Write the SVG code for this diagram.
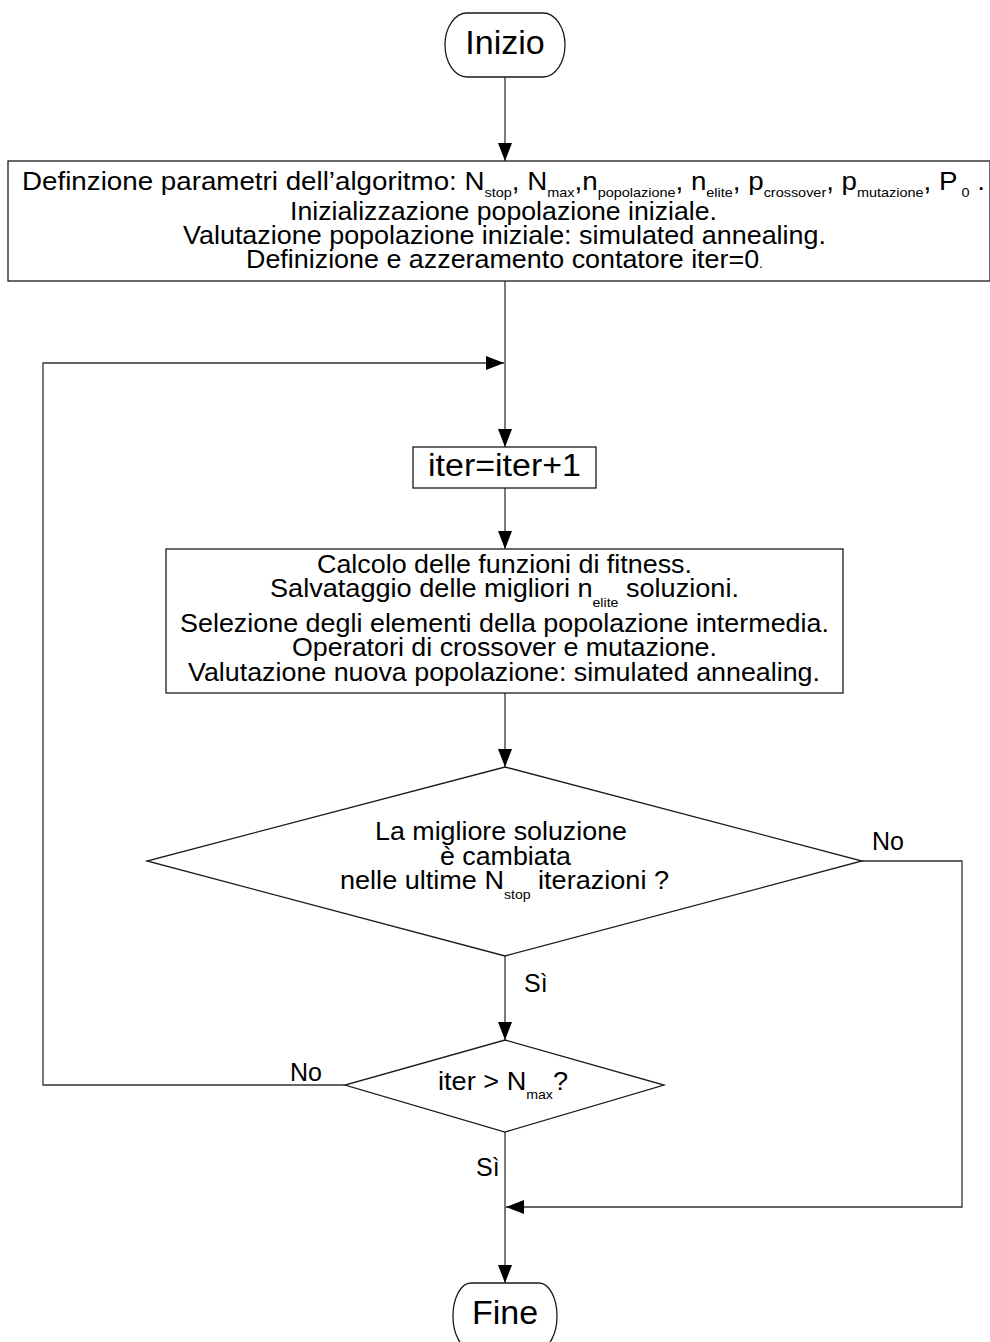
<svg xmlns="http://www.w3.org/2000/svg" width="990" height="1342" viewBox="0 0 990 1342">
  <style>
    .shape { fill: #ffffff; stroke: #1a1a1a; stroke-width: 1.3; }
    .wire { fill: none; stroke: #333333; stroke-width: 1.3; }
    text { font-family: "Liberation Sans", Arial, sans-serif; fill: #000000; }
    .t22 { font-size: 25px; }
    .big { font-size: 34px; }
    .sub { font-size: 13px; }
    .lbl { font-size: 25px; }
  </style>
  <defs>
    <marker id="arrow" viewBox="0 0 18 14" refX="18" refY="7" markerWidth="18" markerHeight="14" markerUnits="userSpaceOnUse" orient="auto">
      <path d="M0,0 L18,7 L0,14 Z" fill="#000000"/>
    </marker>
  </defs>

  <!-- connectors -->
  <g id="connectors">
    <line class="wire" x1="505" y1="77" x2="505" y2="161" marker-end="url(#arrow)"/>
    <line class="wire" x1="505" y1="281" x2="505" y2="447" marker-end="url(#arrow)"/>
    <polyline class="wire" points="345,1085 43,1085 43,363 504,363" marker-end="url(#arrow)"/>
    <line class="wire" x1="505" y1="488" x2="505" y2="549" marker-end="url(#arrow)"/>
    <line class="wire" x1="505" y1="693" x2="505" y2="767" marker-end="url(#arrow)"/>
    <line class="wire" x1="505" y1="956" x2="505" y2="1040" marker-end="url(#arrow)"/>
    <polyline class="wire" points="862,861 962,861 962,1207 506,1207" marker-end="url(#arrow)"/>
    <line class="wire" x1="505" y1="1132" x2="505" y2="1283" marker-end="url(#arrow)"/>
    <text class="lbl" x="872" y="850">No</text>
    <text class="lbl" x="524" y="992">Sì</text>
    <text class="lbl" x="290" y="1081">No</text>
    <text class="lbl" x="476" y="1176">Sì</text>
  </g>

  <!-- start terminator -->
  <g id="start">
    <rect class="shape" x="445" y="13" width="120" height="64" rx="22" ry="32"/>
    <text class="big" x="505" y="54" text-anchor="middle">Inizio</text>
  </g>

  <!-- initialisation block -->
  <g id="init">
    <rect class="shape" x="8" y="161" width="982" height="120"/>
    <text class="t22" x="22" y="190" textLength="963" lengthAdjust="spacingAndGlyphs">Definzione parametri dell’algoritmo: N<tspan class="sub" dy="7">stop</tspan><tspan dy="-7">, N</tspan><tspan class="sub" dy="7">max</tspan><tspan dy="-7">,n</tspan><tspan class="sub" dy="7">popolazione</tspan><tspan dy="-7">, n</tspan><tspan class="sub" dy="7">elite</tspan><tspan dy="-7">, p</tspan><tspan class="sub" dy="7">crossover</tspan><tspan dy="-7">, p</tspan><tspan class="sub" dy="7">mutazione</tspan><tspan dy="-7">, P</tspan><tspan class="sub" dy="7"> 0</tspan><tspan dy="-7"> .</tspan></text>
    <text class="t22" x="290" y="220" textLength="427" lengthAdjust="spacingAndGlyphs">Inizializzazione popolazione iniziale.</text>
    <text class="t22" x="183" y="244" textLength="643" lengthAdjust="spacingAndGlyphs">Valutazione popolazione iniziale: simulated annealing.</text>
    <text class="t22" x="246" y="268" textLength="517" lengthAdjust="spacingAndGlyphs">Definizione e azzeramento contatore iter=0<tspan class="sub">.</tspan></text>
  </g>

  <!-- counter increment -->
  <g id="increment">
    <rect class="shape" x="413" y="447" width="183" height="41"/>
    <text class="big" x="428" y="476" textLength="153" lengthAdjust="spacingAndGlyphs" style="font-size:31px">iter=iter+1</text>
  </g>

  <!-- generation step -->
  <g id="generation">
    <rect class="shape" x="166" y="549" width="677" height="144"/>
    <text class="t22" x="317" y="573" textLength="375" lengthAdjust="spacingAndGlyphs">Calcolo delle funzioni di fitness.</text>
    <text class="t22" x="270" y="597" textLength="469" lengthAdjust="spacingAndGlyphs">Salvataggio delle migliori n<tspan class="sub" dy="10">elite</tspan><tspan dy="-10"> soluzioni.</tspan></text>
    <text class="t22" x="180" y="632" textLength="649" lengthAdjust="spacingAndGlyphs">Selezione degli elementi della popolazione intermedia.</text>
    <text class="t22" x="292" y="656" textLength="425" lengthAdjust="spacingAndGlyphs">Operatori di crossover e mutazione.</text>
    <text class="t22" x="188" y="681" textLength="632" lengthAdjust="spacingAndGlyphs">Valutazione nuova popolazione: simulated annealing.</text>
  </g>

  <!-- stagnation check -->
  <g id="check-stop">
    <polygon class="shape" points="505,767 862,861 505,956 147,861"/>
    <text class="t22" x="375" y="840" textLength="252" lengthAdjust="spacingAndGlyphs">La migliore soluzione</text>
    <text class="t22" x="440" y="865" textLength="131" lengthAdjust="spacingAndGlyphs">è cambiata</text>
    <text class="t22" x="340" y="889" textLength="329" lengthAdjust="spacingAndGlyphs">nelle ultime N<tspan class="sub" dy="10">stop</tspan><tspan dy="-10"> iterazioni ?</tspan></text>
  </g>

  <!-- iteration limit check -->
  <g id="check-max">
    <polygon class="shape" points="505,1040 664,1085 505,1132 345,1085"/>
    <text class="t22" x="438" y="1090" textLength="130" lengthAdjust="spacingAndGlyphs">iter &gt; N<tspan class="sub" dy="9">max</tspan><tspan dy="-9">?</tspan></text>
  </g>

  <!-- end terminator -->
  <g id="end">
    <rect class="shape" x="453" y="1283" width="104" height="66" rx="18" ry="33"/>
    <text class="big" x="505" y="1324" text-anchor="middle">Fine</text>
  </g>
</svg>
